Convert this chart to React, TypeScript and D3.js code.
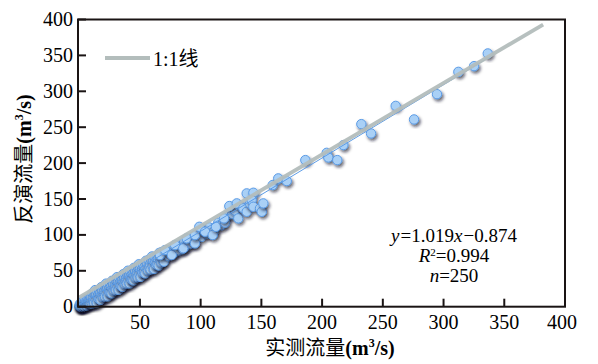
import React, { useEffect, useRef } from 'react';
import * as d3 from 'd3';

// measured vs retrieved discharge (m3/s), dense low-flow cluster
const lowPoints: [number, number][] = [
  [0.2, 0.3], [0.3, 0.8], [0.6, 0.1], [1.0, 1.3],
  [0.5, 3.5], [0.9, 0.2], [1.2, 2.2], [1.6, 0.3], [2.0, 6.5], [2.3, 1.8], [2.7, 4.7], [3.0, 0.5], [3.4, 7.4], [3.8, 2.3],
  [4.1, 4.6], [4.5, 1.0], [4.9, 7.4], [5.2, 10.2], [5.6, 3.6], [6.0, 7.5], [6.3, 1.8], [6.7, 10.2], [7.1, 7.1], [7.4, 4.9],
  [7.8, 10.8], [8.2, 5.7], [8.5, 9.5], [8.9, 4.9], [9.3, 13.8], [9.6, 9.1],
  [10.0, 14.0], [10.4, 4.4], [10.9, 18.9], [11.3, 8.3], [11.8, 12.8], [12.2, 5.2], [12.7, 17.7], [13.1, 23.1], [13.6, 9.6], [14.0, 17.0],
  [14.5, 5.5], [14.9, 21.9], [15.4, 15.4], [15.8, 10.8], [16.3, 22.3], [16.7, 11.7], [17.2, 19.2], [17.6, 9.6], [18.1, 27.1], [18.5, 17.5],
  [19.0, 23.0], [19.4, 13.4], [19.9, 27.9], [20.3, 17.3], [20.8, 21.8], [21.2, 14.2], [21.7, 26.7], [22.1, 32.1], [22.6, 18.6], [23.0, 26.0],
  [23.5, 14.5], [23.9, 30.9], [24.4, 24.4], [24.8, 19.8], [25.3, 31.3], [25.7, 20.7], [26.2, 28.2], [26.6, 18.6], [27.1, 36.1], [27.5, 26.5],
  [28.0, 32.0], [28.4, 22.4], [28.9, 36.9], [29.3, 26.3], [29.8, 30.8], [30.2, 23.2], [30.7, 35.7], [31.1, 41.1], [31.6, 27.6], [32.0, 35.0],
  [32.5, 23.5], [32.9, 39.9], [33.4, 33.4], [33.8, 28.8], [34.3, 40.3], [34.7, 29.7], [35.2, 37.2], [35.6, 27.6], [36.1, 45.1], [36.5, 35.5],
  [37.0, 41.0], [37.4, 31.4], [37.9, 45.9], [38.3, 35.3], [38.8, 39.8], [39.2, 32.2], [39.7, 44.7], [40.1, 50.1], [40.6, 36.6], [41.0, 44.0],
  [41.5, 32.5], [41.9, 48.9], [42.4, 42.4], [42.8, 37.8], [43.3, 49.3], [43.7, 38.7], [44.2, 46.2], [44.6, 36.6], [45.1, 54.1], [45.5, 44.5],
  [46.0, 50.0], [46.4, 40.4], [46.9, 54.9], [47.3, 44.3], [47.8, 48.8], [48.2, 41.2], [48.7, 53.7], [49.1, 59.1], [49.6, 45.6], [50.0, 53.0],
  [50.6, 41.6], [51.1, 58.1], [51.7, 51.7], [52.2, 47.2], [52.8, 58.8], [53.3, 48.3], [53.9, 55.9], [54.4, 46.4], [55.0, 64.0], [55.5, 54.5],
  [56.1, 60.1], [56.6, 50.6], [57.2, 65.2], [57.7, 54.7], [58.3, 59.3], [58.8, 51.8], [59.4, 64.4], [59.9, 69.9], [60.5, 56.5], [61.0, 64.0],
  [61.6, 52.6], [62.1, 69.1], [62.7, 62.7], [63.2, 58.2], [63.8, 69.8], [64.3, 59.3], [64.9, 66.9], [65.4, 57.4], [66.0, 75.0], [66.5, 65.5],
  [67.1, 71.1], [67.6, 61.6], [68.2, 76.2], [68.7, 65.7], [69.3, 70.3], [69.8, 62.8], [70.4, 75.4],
];

const midPoints: [number, number][] = [
  [72.0, 77.2], [73.5, 70.4], [74.5, 79.0], [76.0, 73.5], [77.5, 82.0], [79.0, 76.0], [80.5, 84.3], [82.0, 78.6], [83.5, 87.0], [85.0, 80.2],
  [86.5, 90.1], [88.0, 84.0], [90.0, 93.0], [91.5, 87.4], [93.0, 96.2], [94.5, 90.0], [97.0, 100.4], [100.5, 97.3], [102.0, 106.1], [105.5, 102.0],
  [107.0, 110.5], [111.0, 105.3], [114.5, 117.0], [117.0, 113.4], [122.0, 126.5], [126.0, 129.0], [128.0, 134.0], [134.0, 139.0],
  [66.5, 72.0], [70.7, 78.9], [76.2, 72.0], [78.9, 85.9], [85.7, 81.3], [88.5, 95.2], [95.3, 88.2], [95.3, 99.8], [98.9, 111.3],
  [103.6, 104.4], [109.9, 99.8], [112.6, 111.3], [120.1, 116.9], [119.2, 123.0], [123.6, 140.2], [129.7, 143.9], [131.0, 123.0],
  [135.1, 137.0], [137.9, 132.2], [137.9, 157.8], [140.6, 143.9], [143.4, 158.7], [142.0, 148.5], [143.4, 139.2], [148.9, 137.0],
  [150.3, 132.2], [151.6, 143.9],
];

const highPoints: [number, number][] = [
  [159.3, 169.4], [163.9, 178.7], [170.9, 175.0], [186.2, 204.2], [203.8, 214.3], [205.1, 207.9], [212.5, 204.2], [217.5, 225.1],
  [232.3, 254.3], [240.3, 241.3], [260.6, 279.7], [275.7, 260.8], [294.6, 296.0], [312.2, 327.1], [325.1, 335.0], [336.4, 352.7],
];

// reference lines as drawn in the figure
const oneToOneLine: [number, number][] = [[0, 13], [382, 393]];
const fitLine: [number, number][] = [[0, 3], [340, 350]];

const xTicks = [50, 100, 150, 200, 250, 300, 350, 400];
const yTicks = [0, 50, 100, 150, 200, 250, 300, 350, 400];

const App = () => {
  const chartRef = useRef<SVGSVGElement>(null);

  useEffect(() => {
    const width = 598;
    const height = 364;
    const left = 78, right = 565, top = 19.5, bottom = 306.7;
    const serif = "'Liberation Serif', 'Times New Roman', 'Noto Sans CJK SC', serif";

    const svg = d3.select(chartRef.current);
    svg.selectAll('*').remove();
    svg.attr('width', width).attr('height', height);

    const x = d3.scaleLinear().domain([0, 400]).range([left + 1.2, right]);
    const y = d3.scaleLinear().domain([0, 400]).range([bottom, top]);

    const defs = svg.append('defs');
    const f = defs.append('filter').attr('id', 'shadow')
      .attr('x', '-50%').attr('y', '-50%').attr('width', '200%').attr('height', '200%');
    f.append('feDropShadow')
      .attr('dx', 1.5).attr('dy', 2.2)
      .attr('stdDeviation', 1.4)
      .attr('flood-color', '#0c1824')
      .attr('flood-opacity', 0.65);

    const line = d3.line<[number, number]>().x(d => x(d[0])).y(d => y(d[1]));

    const allPoints = [...lowPoints, ...midPoints, ...highPoints];

    svg.append('g')
      .selectAll('circle')
      .data(allPoints)
      .enter()
      .append('circle')
      .attr('cx', d => x(d[0]))
      .attr('cy', d => y(d[1]))
      .attr('r', 4.7)
      .attr('fill', '#a9d0f6')
      .attr('stroke', '#5b9be6')
      .attr('stroke-width', 1)
      .attr('filter', 'url(#shadow)');

    svg.append('path')
      .attr('d', line(fitLine))
      .attr('fill', 'none')
      .attr('stroke', '#5b9be6')
      .attr('stroke-width', 1);

    svg.append('path')
      .attr('d', line(oneToOneLine))
      .attr('fill', 'none')
      .attr('stroke', '#b3bdbc')
      .attr('stroke-opacity', 0.95)
      .attr('stroke-width', 3.8);

    // frame
    svg.append('rect')
      .attr('x', left).attr('y', top)
      .attr('width', right - left).attr('height', bottom - top)
      .attr('fill', 'none')
      .attr('stroke', '#1a1414')
      .attr('stroke-width', 2);

    // y axis ticks (inward) + labels
    const yg = svg.append('g');
    yg.selectAll('line')
      .data(yTicks)
      .enter()
      .append('line')
      .attr('x1', left).attr('x2', left + 8)
      .attr('y1', d => y(d)).attr('y2', d => y(d))
      .attr('stroke', '#1a1414').attr('stroke-width', 2);
    yg.selectAll('text')
      .data(yTicks)
      .enter()
      .append('text')
      .attr('x', left - 5)
      .attr('y', d => y(d) + 6.5)
      .attr('text-anchor', 'end')
      .style('font-family', serif)
      .style('font-size', '20px')
      .text(d => d);

    const xg = svg.append('g');
    xg.selectAll('line')
      .data(xTicks.filter(d => d < 400))
      .enter()
      .append('line')
      .attr('x1', d => x(d)).attr('x2', d => x(d))
      .attr('y1', bottom).attr('y2', bottom - 8)
      .attr('stroke', '#1a1414').attr('stroke-width', 2);
    xg.selectAll('text')
      .data(xTicks)
      .enter()
      .append('text')
      .attr('x', d => (d === 400 ? x(d) - 3 : x(d)))
      .attr('y', 328.5)
      .attr('text-anchor', 'middle')
      .style('font-family', serif)
      .style('font-size', '20px')
      .text(d => d);

    // axis titles
    const xTitle = svg.append('text')
      .attr('x', 330).attr('y', 355)
      .attr('text-anchor', 'middle')
      .style('font-family', serif)
      .style('font-size', '20px');
    xTitle.append('tspan').text('实测流量');
    xTitle.append('tspan').style('font-weight', 'bold').text('(m');
    xTitle.append('tspan').style('font-weight', 'bold').style('font-size', '12px').attr('dy', -8).text('3');
    xTitle.append('tspan').style('font-weight', 'bold').attr('dy', 8).text('/s)');

    const yTitle = svg.append('text')
      .attr('transform', 'translate(31,159) rotate(-90)')
      .attr('text-anchor', 'middle')
      .style('font-family', serif)
      .style('font-size', '20px');
    yTitle.append('tspan').text('反演流量');
    yTitle.append('tspan').style('font-weight', 'bold').text('(m');
    yTitle.append('tspan').style('font-weight', 'bold').style('font-size', '12px').attr('dy', -8).text('3');
    yTitle.append('tspan').style('font-weight', 'bold').attr('dy', 8).text('/s)');

    // legend
    svg.append('line')
      .attr('x1', 105).attr('x2', 150)
      .attr('y1', 58).attr('y2', 58)
      .attr('stroke', '#b3bdbc').attr('stroke-width', 3.8);
    svg.append('text')
      .attr('x', 153).attr('y', 65.5)
      .style('font-family', serif)
      .style('font-size', '20px')
      .text('1:1线');

    // statistics
    const st = svg.append('g').style('font-family', serif).style('font-size', '19px');
    const l1 = st.append('text').attr('x', 454).attr('y', 241.5).attr('text-anchor', 'middle');
    l1.append('tspan').style('font-style', 'italic').text('y');
    l1.append('tspan').attr('dx', 1).text('=1.019');
    l1.append('tspan').style('font-style', 'italic').text('x');
    l1.append('tspan').attr('dx', 1).text('\u22120.874');
    const l2 = st.append('text').attr('x', 454).attr('y', 262).attr('text-anchor', 'middle');
    l2.append('tspan').style('font-style', 'italic').text('R');
    l2.append('tspan').style('font-size', '11px').attr('dy', -6.5).text('2');
    l2.append('tspan').attr('dy', 6.5).text('=0.994');
    const l3 = st.append('text').attr('x', 454).attr('y', 282).attr('text-anchor', 'middle');
    l3.append('tspan').style('font-style', 'italic').text('n');
    l3.append('tspan').text('=250');
  }, []);

  return (
    <svg ref={chartRef} style={{ position: 'absolute', left: 0, top: 0, background: '#fff' }}></svg>
  );
};

export default App;
